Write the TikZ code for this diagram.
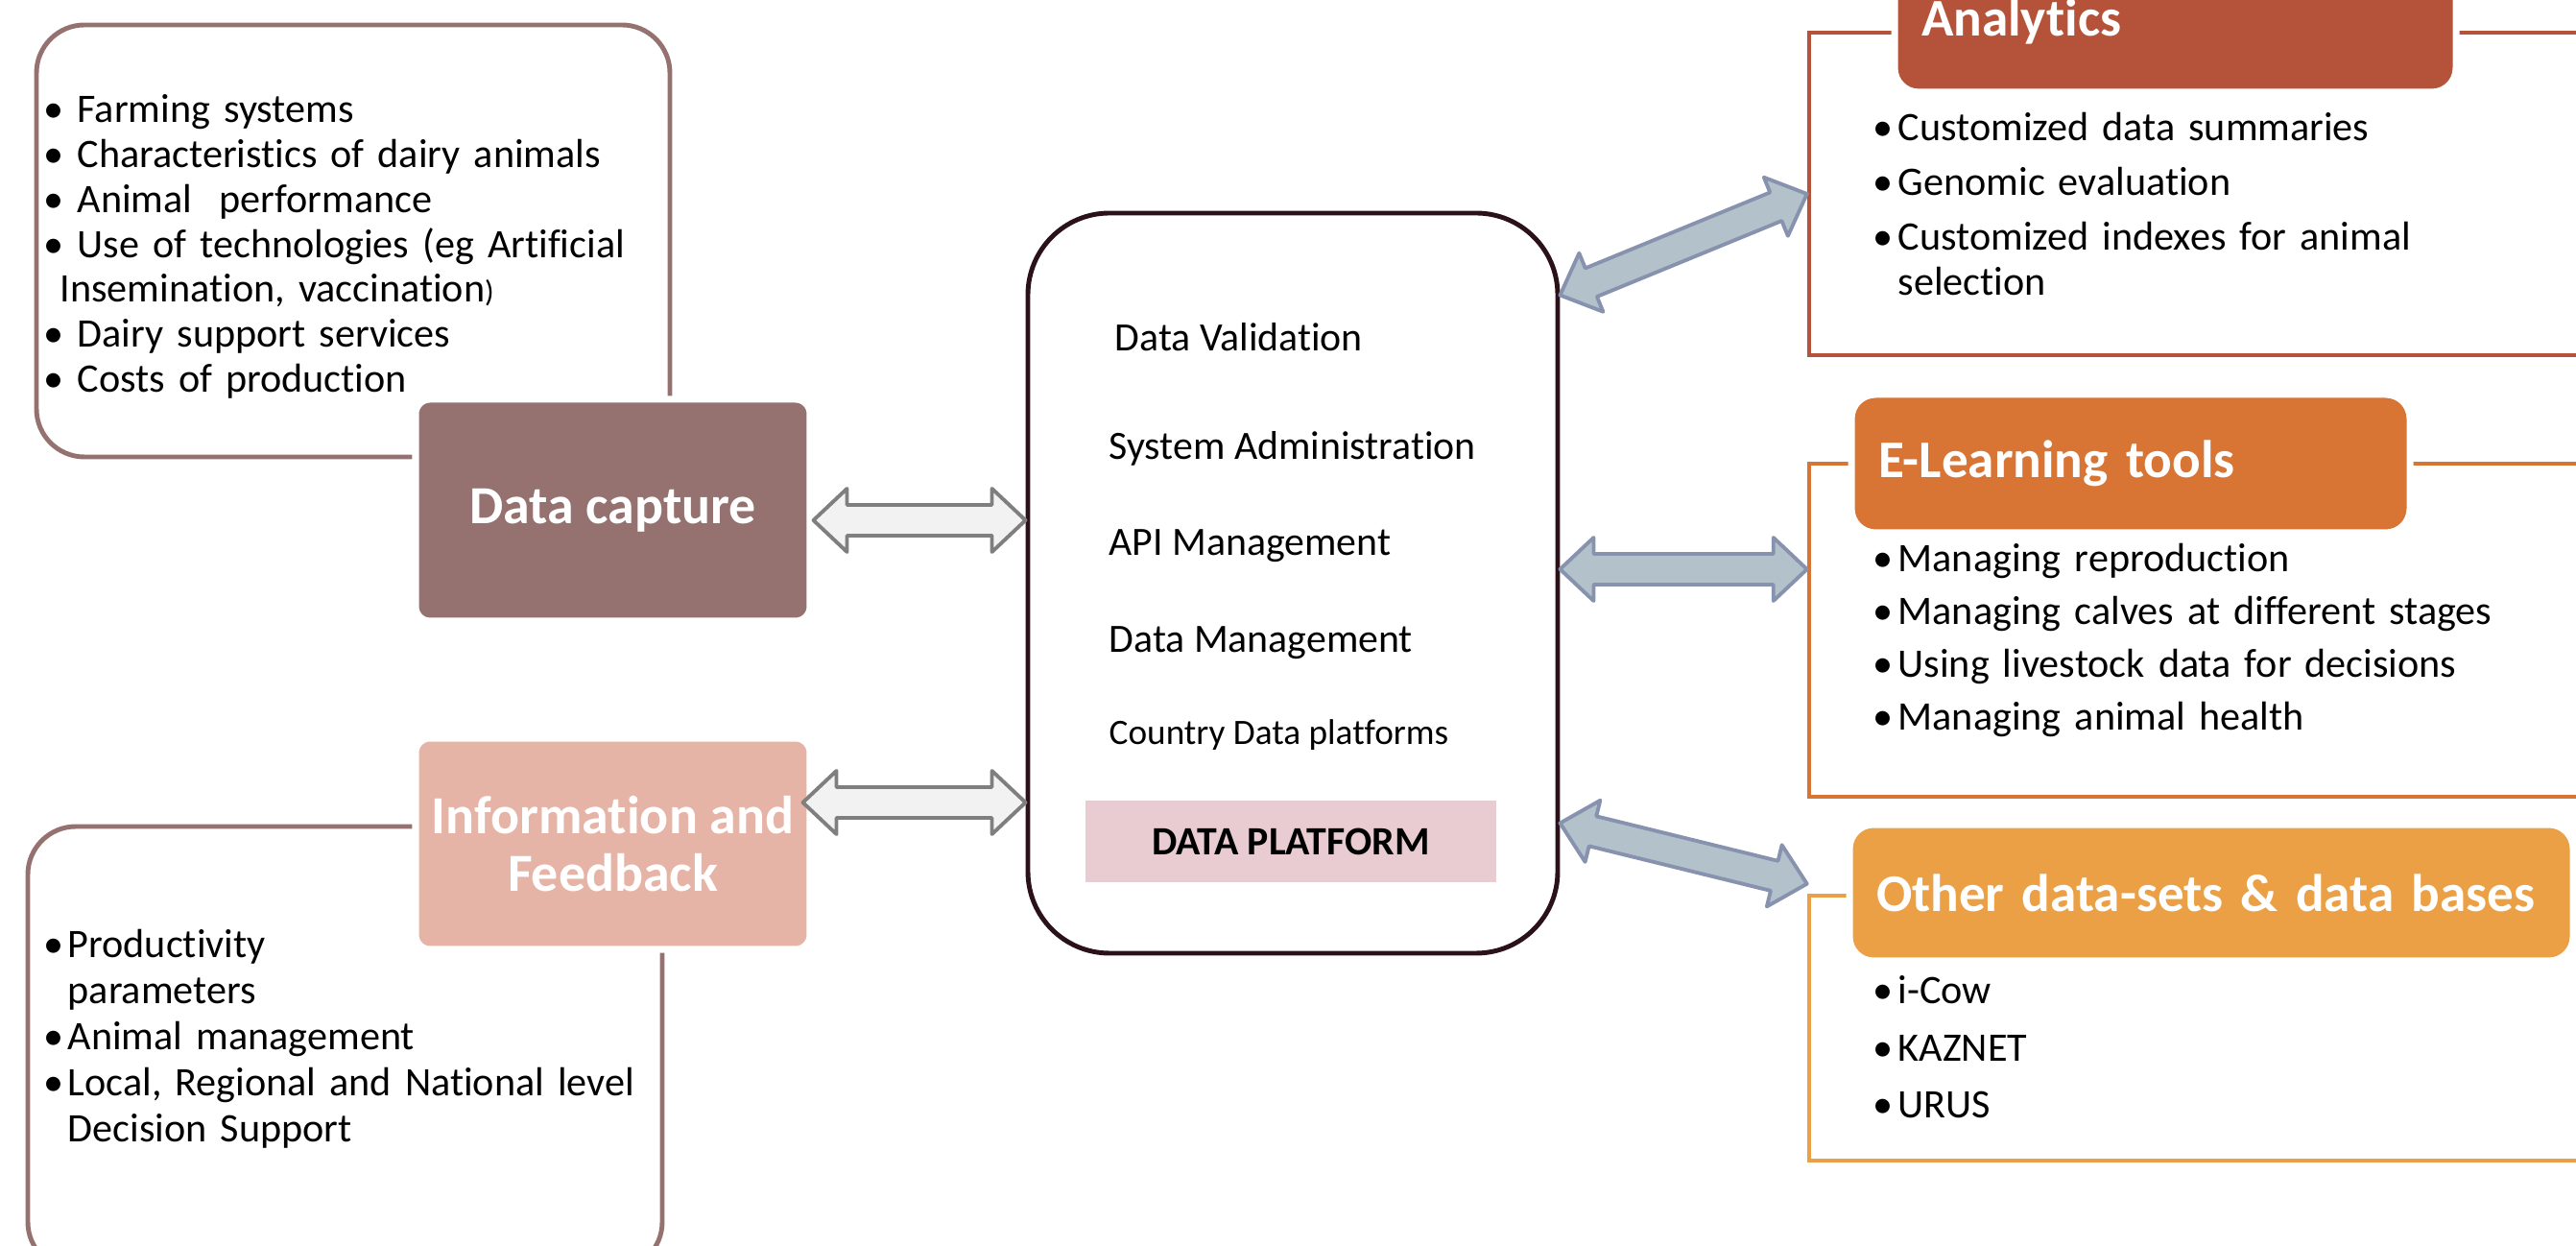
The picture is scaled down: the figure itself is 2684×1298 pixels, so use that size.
\documentclass[tikz,border=0pt]{standalone}
\usepackage{fontspec}
\setmainfont{Carlito}[Ligatures=NoCommon]
\usetikzlibrary{calc}
\definecolor{mauve}{HTML}{957270}
\definecolor{salmon}{HTML}{E6B4A6}
\definecolor{darkplum}{HTML}{2B1219}
\definecolor{pinkband}{HTML}{E9CCD2}
\definecolor{rust}{HTML}{B5533A}
\definecolor{carrot}{HTML}{D87434}
\definecolor{amber}{HTML}{EBA045}
\definecolor{greyfill}{HTML}{F2F2F2}
\definecolor{greyline}{HTML}{7F7F7F}
\definecolor{steelfill}{HTML}{B3C1CA}
\definecolor{steelline}{HTML}{8793AE}
\newcommand{\bul}[1]{\makebox[#1][l]{\textbullet}}
% block arrow with two heads: style, from, to
\newcommand{\dblarrow}[3]{%
  \coordinate (ha) at ($(#2)!0.35cm!(#3)$);
  \coordinate (hb) at ($(#3)!0.35cm!(#2)$);
  \draw[#1] (#2) -- ($(ha)!0.33cm!90:(#3)$) -- ($(ha)!0.16cm!90:(#3)$)
    -- ($(hb)!0.16cm!-90:(#2)$) -- ($(hb)!0.33cm!-90:(#2)$) -- (#3)
    -- ($(hb)!0.33cm!90:(#2)$) -- ($(hb)!0.16cm!90:(#2)$)
    -- ($(ha)!0.16cm!-90:(#3)$) -- ($(ha)!0.33cm!-90:(#3)$) -- cycle;
}

\begin{document}
\begin{tikzpicture}[x=0.1mm,y=0.1mm,
    listbox/.style={
% The shape:
rectangle, rounded corners=5mm,
% The border:
draw=mauve, line width=1.4pt,
},
    tagbox/.style={
% The shape:
rectangle, rounded corners=1.5mm,
% The size:
minimum width=41.1mm,
% The border:
draw=white, line width=2pt,
% The text:
text=white, align=center,
font=\fontsize{15.9}{17}\selectfont\bfseries,
},
    bracketbox/.style={
% The shape:
rectangle, minimum width=91.5mm,
% The border:
draw=#1, line width=1.3pt,
},
    header/.style={
% The shape:
rectangle, rounded corners=2.5mm, fill=#1,
% The border:
draw=white, line width=2pt,
% The text:
inner xsep=2.8mm, text=white, align=left,
font=\fontsize{15.7}{17}\selectfont\bfseries,
},
    listtext/.style={
inner sep=0pt, anchor=base west, text width=80mm, align=left,
font=\fontsize{12}{13.3}\selectfont,
},
    platitem/.style={
inner sep=0pt, anchor=base west,
font=\fontsize{11.9}{13}\selectfont,
},
    greyarrow/.style={fill=greyfill, draw=greyline, line width=1.1pt, line join=round},
    steelarrow/.style={fill=steelfill, draw=steelline, line width=1.1pt, line join=round},
]
  \useasboundingbox (0,0) rectangle (2684,1298);

  % left side
  \node[listbox, minimum width=66mm, minimum height=45mm] (caplistbox) at (368,1047) {};
  \node[listtext] (caplist) at (45,1170)
  {\bul{3.5mm}Farming systems\\
   \bul{3.5mm}Characteristics of dairy animals\\
   \bul{3.5mm}Animal\ \ performance\\
   \bul{3.5mm}Use of technologies (eg Artificial\\
   \hspace*{1.7mm}Insemination, vaccination{\fontsize{9}{9}\selectfont )}\\
   \bul{3.5mm}Dairy support services\\
   \bul{3.5mm}Costs of production};
  \node[tagbox, fill=mauve, minimum height=23.1mm] (capture) at (638.5,766.5) {Data capture};

  \node[listbox, minimum width=66.1mm, minimum height=46.2mm] (infolistbox) at (359.5,206) {};
  \node[listtext, font=\fontsize{12}{13.6}\selectfont] (infolist) at (45,300)
  {\bul{2.5mm}Productivity\\
   \hspace*{2.5mm}parameters\\
   \bul{2.5mm}Animal management\\
   \bul{2.5mm}Local, Regional and National level\\
   \hspace*{2.5mm}Decision Support};
  \node[tagbox, fill=salmon, minimum height=22mm] (info) at (638.5,419) {Information and\\Feedback};

  % data platform
  \node[rectangle, rounded corners=8.5mm, draw=darkplum, line width=1.4pt,
        minimum width=55.2mm, minimum height=77.1mm] (platform) at (1347,690.5) {};
  \node[platitem] (valid)    at (1161,932) {Data Validation};
  \node[platitem] (sysadm)   at (1155,819) {System Administration};
  \node[platitem] (apimgmt)  at (1155,719) {API Management};
  \node[platitem] (datamgmt) at (1155,618) {Data Management};
  \node[platitem, font=\fontsize{10.6}{12}\selectfont] (country) at (1155,522) {Country Data platforms};
  \node[fill=pinkband, minimum width=42.8mm, minimum height=8.5mm,
        font=\fontsize{11.9}{13}\selectfont\bfseries] (dplat) at (1345,421.5) {DATA PLATFORM};

  % right side
  \node[bracketbox=rust, minimum height=33.6mm] (anaframe) at (2342.5,1096) {};
  \node[header=rust, minimum width=58.5mm, minimum height=14.8mm, text width=52.9mm]
    (analytics) at (2266.5,1276) {Analytics};
  \node[listtext] (analist) at (1951,1151)
  {\bul{2.6mm}Customized data summaries\\[2.9pt]
   \bul{2.6mm}Genomic evaluation\\[2.9pt]
   \bul{2.6mm}Customized indexes for animal\\
   \hspace*{2.6mm}selection};

  \node[bracketbox=carrot, minimum height=34.7mm] (elframe) at (2342.5,641.5) {};
  \node[header=carrot, minimum width=58.2mm, minimum height=14.4mm, text width=52.6mm]
    (elearn) at (2220,815) {E-Learning tools};
  \node[listtext] (ellist) at (1951,702)
  {\bul{2.6mm}Managing reproduction\\[2.3pt]
   \bul{2.6mm}Managing calves at different stages\\[2.3pt]
   \bul{2.6mm}Using livestock data for decisions\\[2.3pt]
   \bul{2.6mm}Managing animal health};

  \node[bracketbox=amber, minimum height=27.6mm] (otherframe) at (2342.5,227) {};
  \node[header=amber, minimum width=75.4mm, minimum height=14.2mm, text width=69.8mm]
    (otherdb) at (2304,368) {Other data-sets \& data bases};
  \node[listtext] (otherlist) at (1951,252)
  {\bul{2.6mm}i-Cow\\[3.5pt]
   \bul{2.6mm}KAZNET\\[3.5pt]
   \bul{2.6mm}URUS};

  % connectors
  \coordinate (cap-r)  at ([yshift=-1.05mm]capture.east);
  \coordinate (plat-l1) at (platform.west |- cap-r);
  \coordinate (info-r) at ([xshift=-1.1mm,yshift=4.3mm]info.east);
  \coordinate (plat-l2) at (platform.west |- info-r);
  \coordinate (plat-r1) at ([yshift=30mm]platform.east);
  \coordinate (plat-r2) at ([yshift=1.45mm]platform.east);
  \coordinate (el-l)   at (elframe.west |- plat-r2);
  \coordinate (plat-r3) at ([yshift=-25mm]platform.east);
  \coordinate (other-l) at ([yshift=1mm]otherframe.north west);

  \dblarrow{greyarrow}{cap-r}{plat-l1}
  \dblarrow{greyarrow}{info-r}{plat-l2}
  \dblarrow{steelarrow}{plat-r1}{anaframe.west}
  \dblarrow{steelarrow}{plat-r2}{el-l}
  \dblarrow{steelarrow}{plat-r3}{other-l}

\end{tikzpicture}
\end{document}
